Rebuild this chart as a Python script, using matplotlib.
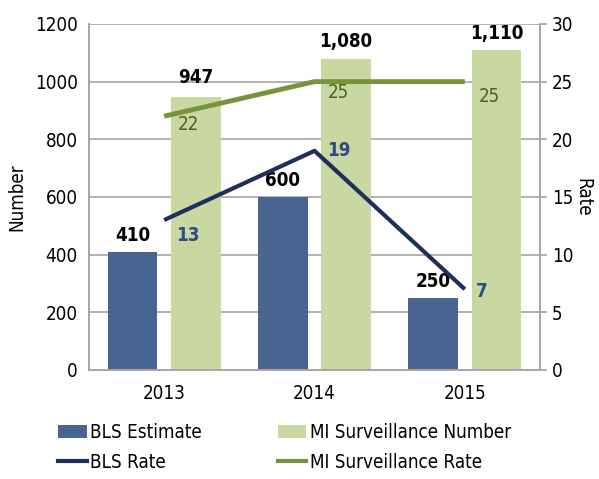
import matplotlib
matplotlib.use("Agg")
import matplotlib.pyplot as plt
import numpy as np
from matplotlib.patches import Patch
from matplotlib.lines import Line2D
from matplotlib import font_manager as fm

years = ["2013", "2014", "2015"]
bls_estimate = [410, 600, 250]
mi_number = [947, 1080, 1110]
bls_rate = [13, 19, 7]
mi_rate = [22, 25, 25]
bar_labels_mi = ["947", "1,080", "1,110"]
bar_labels_bls = ["410", "600", "250"]

names = {f.name for f in fm.fontManager.ttflist}
has_cond = any(f.name == 'DejaVu Sans' and str(f.stretch) in ('condensed', 'semi-condensed')
               for f in fm.fontManager.ttflist)
if 'Liberation Sans Narrow' in names:
    plt.rcParams['font.family'] = ['Liberation Sans Narrow', 'DejaVu Sans']
elif has_cond:
    plt.rcParams['font.family'] = ['DejaVu Sans']
    plt.rcParams['font.stretch'] = 'condensed'
else:
    plt.rcParams['font.family'] = ['Liberation Sans', 'DejaVu Sans']

c_bls = "#4A6491"
c_mi = "#C9D8A0"
c_bls_line = "#1F2F5C"
c_mi_line = "#77933C"
c_grid = "#A6A6A6"
FS = 13.5

fig = plt.figure(figsize=(5.99, 4.79), dpi=100)
ax = fig.add_axes([0.1486, 0.2276, 0.7529, 0.7224])
ax2 = ax.twinx()

x = np.arange(len(years))
w = 0.33
off = 0.21
ax.bar(x - off, bls_estimate, w, color=c_bls, zorder=2)
ax.bar(x + off, mi_number, w, color=c_mi, zorder=2)
ax.set_xlim(-0.5, 2.5)
ax.set_ylim(0, 1200)
ax.set_yticks(range(0, 1201, 200))
ax.yaxis.grid(True, color=c_grid, linewidth=1.2, zorder=0)
ax.set_axisbelow(True)
ax.set_xticks(x)
ax.set_xticklabels(years)
ax.tick_params(axis='x', length=0, labelsize=FS, pad=10)
ax.tick_params(axis='y', length=0, labelsize=FS, pad=8)
ax.spines['top'].set_visible(False)
ax2.spines['top'].set_visible(False)
for a in (ax, ax2):
    for s in ['left', 'bottom', 'right']:
        a.spines[s].set_color(c_grid)
        a.spines[s].set_linewidth(1.2)
ax.set_ylabel("Number", fontsize=FS, labelpad=6)

bar_dy = [35, 25, 25]
for i in range(len(years)):
    ax.text(x[i] - off, bls_estimate[i] + 25, bar_labels_bls[i], ha='center', va='bottom',
            fontsize=FS, fontweight='bold', color='black')
    ax.text(x[i] + off, mi_number[i] + bar_dy[i], bar_labels_mi[i], ha='center', va='bottom',
            fontsize=FS, fontweight='bold', color='black')

ax2.plot(x, bls_rate, color=c_bls_line, linewidth=3, solid_capstyle='butt', zorder=3)
ax2.plot(x, mi_rate, color=c_mi_line, linewidth=3.5, solid_capstyle='butt', zorder=3)
ax2.set_ylim(0, 30)
ax2.set_yticks(range(0, 31, 5))
ax2.tick_params(axis='y', length=5, color=c_grid, labelsize=FS, width=1.2)
ax2.set_ylabel("Rate", fontsize=FS, rotation=270, labelpad=14)

bls_dx = [0.16, 0.16, 0.11]
bls_dy = [-1.3, 0.0, -0.2]
mi_dy = [-0.7, -0.9, -1.3]
for i in range(len(years)):
    ax2.text(x[i] + bls_dx[i], bls_rate[i] + bls_dy[i], str(bls_rate[i]), ha='center', va='center',
             fontsize=FS, fontweight='bold', color='#2E4A8A')
    ax2.text(x[i] + 0.16, mi_rate[i] + mi_dy[i], str(mi_rate[i]), ha='center', va='center',
             fontsize=FS, color='#4F5F1F')

p_bls = Patch(facecolor=c_bls)
p_mi = Patch(facecolor=c_mi)
l_bls = Line2D([0], [0], color=c_bls_line, linewidth=3)
l_mi = Line2D([0], [0], color=c_mi_line, linewidth=3)
kw = dict(loc='lower left', frameon=False, fontsize=FS, handlelength=1.5,
          handletextpad=0.2, labelspacing=0.55, handleheight=0.7, borderaxespad=0)
fig.legend([p_bls, l_bls], ["BLS Estimate", "BLS Rate"],
           bbox_to_anchor=(0.085, 0.0), **kw)
fig.legend([p_mi, l_mi], ["MI Surveillance Number", "MI Surveillance Rate"],
           bbox_to_anchor=(0.452, 0.0), **kw)

fig.savefig("out.png", dpi=100)
